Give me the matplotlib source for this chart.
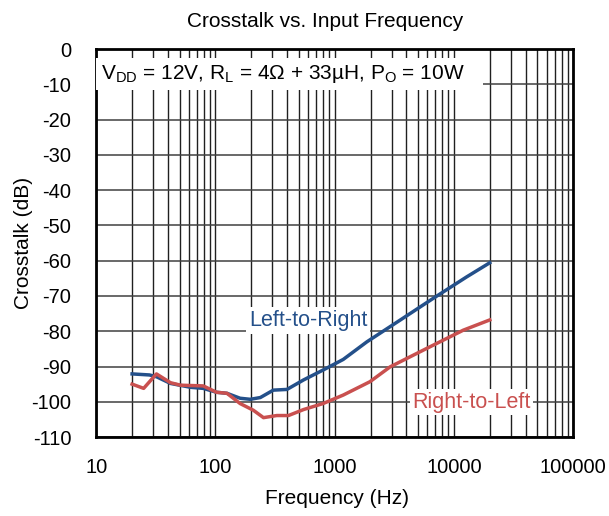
import matplotlib
matplotlib.use("Agg")
import matplotlib.pyplot as plt
from matplotlib.patches import Rectangle
from matplotlib.ticker import FixedLocator, NullFormatter, LogLocator

plt.rcParams['font.family'] = ['Liberation Sans', 'DejaVu Sans']
plt.rcParams['mathtext.fontset'] = 'custom'
plt.rcParams['mathtext.rm'] = 'Liberation Sans'

# 读图估计的数据
freq_lr = [20, 28, 32, 42, 62, 79, 102, 125, 161, 196, 238, 306, 398, 549, 800,
           1180, 1865, 3560, 6700, 12800, 20000]
db_lr = [-92.1, -92.4, -92.9, -94.8, -95.9, -96.2, -97.3, -97.6, -99.0, -99.3, -98.8,
         -96.7, -96.5, -93.8, -91.0, -88.0, -83.0, -76.8, -70.7, -64.6, -60.6]

freq_rl = [20, 25, 32, 42, 51, 79, 102, 125, 161, 208, 253, 327, 410, 549, 800,
           1180, 1980, 2920, 5900, 12000, 20000]
db_rl = [-95.0, -96.2, -92.1, -94.6, -95.3, -95.5, -97.3, -97.6, -100.5, -102.4, -104.5,
         -103.9, -103.9, -102.2, -100.5, -98.1, -94.3, -90.1, -84.9, -79.7, -76.8]

x_ticks = [10, 100, 1000, 10000, 100000]
x_labels = ["10", "100", "1000", "10000", "100000"]
y_ticks = list(range(-110, 1, 10))

blue = '#24508A'
red = '#C9504F'

fig = plt.figure(figsize=(6.09, 5.16), dpi=100)
ax = fig.add_axes([0.158, 0.153, 0.783, 0.752])

ax.plot(freq_lr, db_lr, color=blue, lw=2.5, zorder=3)
ax.plot(freq_rl, db_rl, color=red, lw=2.5, zorder=3)

ax.set_xscale('log')
ax.set_xlim(10, 100000)
ax.set_ylim(-110, 0)
ax.xaxis.set_major_locator(FixedLocator(x_ticks))
ax.set_xticklabels(x_labels)
ax.xaxis.set_minor_locator(LogLocator(base=10, subs=range(2, 10), numticks=20))
ax.xaxis.set_minor_formatter(NullFormatter())
ax.set_yticks(y_ticks)
ax.set_yticklabels([str(v) for v in y_ticks])

ax.grid(True, which='major', axis='y', color='#404040', lw=1.1)
ax.grid(True, which='major', axis='x', color='#202020', lw=1.0)
ax.grid(True, which='minor', axis='x', color='#202020', lw=1.0)
ax.tick_params(which='both', length=0, labelsize=14.5)
ax.tick_params(axis='x', pad=15)
ax.tick_params(axis='y', pad=18)
for s in ax.spines.values():
    s.set_linewidth(2)
    s.set_color('black')

fig.text(325 / 609, 1 - 27 / 516, "Crosstalk vs. Input Frequency", fontsize=15,
         ha='center', va='baseline')
ax.set_xlabel("Frequency (Hz)", fontsize=15)
ax.xaxis.set_label_coords(0.505, -0.134)
ax.set_ylabel("Crosstalk (dB)", fontsize=15)
ax.yaxis.set_label_coords(-0.132, 0.5)

# 条件框（白底遮住网格）
ax.add_patch(Rectangle((0, 0.894), 0.811, 0.083, transform=ax.transAxes,
                       facecolor='white', edgecolor='none', zorder=3.5))
ax.text(0.01, 0.935, r"V$_{\mathrm{DD}}$ = 12V, R$_{\mathrm{L}}$ = 4Ω + 33µH, P$_{\mathrm{O}}$ = 10W",
        transform=ax.transAxes, fontsize=15, va='center', ha='left', zorder=4)

ax.text(0.444, 0.300, "Left-to-Right", transform=ax.transAxes, fontsize=15.5,
        color=blue, ha='center', va='center', zorder=4,
        bbox=dict(facecolor='white', edgecolor='none', pad=2))
ax.text(0.787, 0.090, "Right-to-Left", transform=ax.transAxes, fontsize=15.5,
        color=red, ha='center', va='center', zorder=4,
        bbox=dict(facecolor='white', edgecolor='none', pad=2))

plt.savefig("out.png", dpi=100)
